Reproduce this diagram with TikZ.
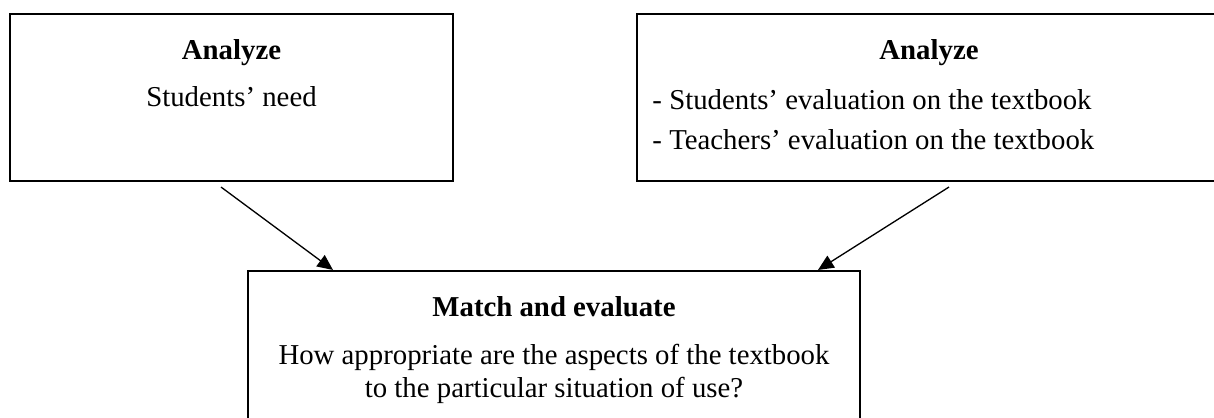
\documentclass[tikz,border=0pt]{standalone}
\usepackage{fontspec}
\setmainfont{Liberation Serif}
\usetikzlibrary{arrows.meta,calc}

\tikzstyle{box} = [draw, rectangle, line width=0.85pt, minimum height=69.6pt, inner sep=0pt]
\tikzstyle{plain-text} = [anchor=base, inner sep=0pt, font=\fontsize{12}{14}\selectfont]
\tikzstyle{title-text} = [plain-text, font=\fontsize{12}{14}\selectfont\bfseries]
\tikzstyle{item-text} = [plain-text, anchor=base west]
\tikzstyle{link} = [line width=0.55pt, -{Triangle[length=6.5pt, width=5.8pt]}]

\begin{document}
\begin{tikzpicture}[x=0.4167pt, y=-0.4167pt]

	\clip (0,0) rectangle (1214,418);

	\node [box, minimum width=184.6pt] (need-box) at (231.5,97.5) {};
	\node [box, minimum width=243.3pt] (eval-box) at (929,97.5) {};
	\node [box, minimum width=255pt] (match-box) at (554,354.5) {};

	\node [title-text] (need-title) at (231.5,60) {Analyze};
	\node [plain-text] (need-text) at (231.5,107) {Students' need};

	\node [title-text] (eval-title) at (929,60) {Analyze};
	\node [item-text] (eval-students) at (652,110) {- Students' evaluation on the textbook};
	\node [item-text] (eval-teachers) at (652,150) {- Teachers' evaluation on the textbook};

	\node [title-text] (match-title) at (554,316) {Match and evaluate};
	\node [plain-text] (match-text1) at (554,365) {How appropriate are the aspects of the textbook};
	\node [plain-text] (match-text2) at (554,398) {to the particular situation of use?};

	\draw [link] ($(need-box.south)+(-10.5,5)$) -- ($(match-box.north west)+(86,0)$);
	\draw [link] ($(eval-box.south)+(20,5)$) -- ($(match-box.north east)+(-43,0)$);

\end{tikzpicture}
\end{document}
